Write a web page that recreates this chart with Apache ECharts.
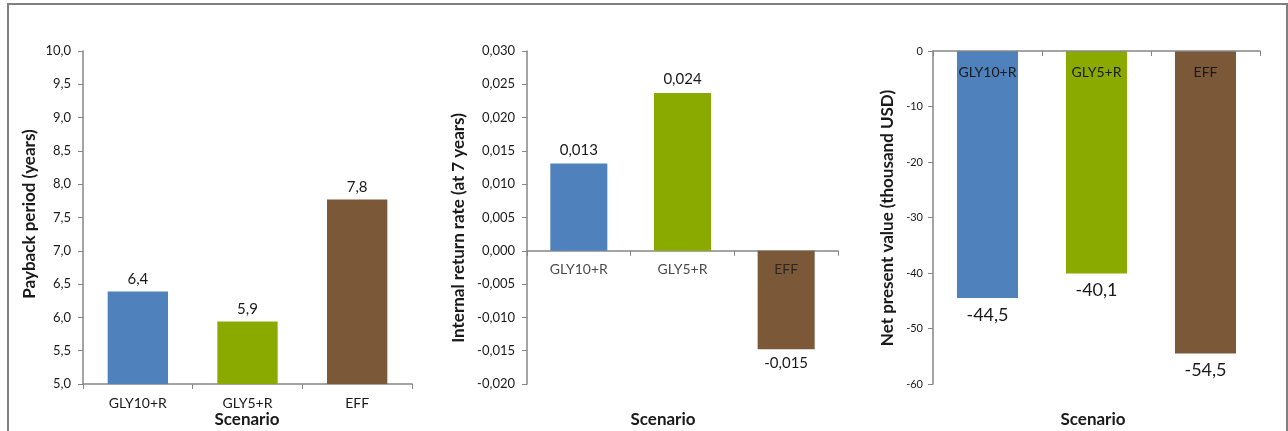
<!DOCTYPE html>
<html>
<head>
<meta charset="utf-8">
<script src="https://cdn.jsdelivr.net/npm/echarts@6/dist/echarts.min.js"></script>
<style>
html,body{margin:0;padding:0;background:#fff;}
#c{width:1288px;height:431px;}
</style>
</head>
<body>
<div id="c"></div>
<script>
var categories = ['GLY10+R', 'GLY5+R', 'EFF'];
var colors = ['#4F81BD', '#8BAA00', '#7A5838'];
var payback = [6.39, 5.94, 7.77];
var irr = [0.0131, 0.0237, -0.0148];
var npv = [-44.5, -40.1, -54.5];
var titles = ['Payback period (years)', 'Internal return rate (at 7 years)', 'Net present value (thousand USD)'];
var xTitle = 'Scenario';

var FONT = 'Lato, "Open Sans", sans-serif';
var TXT = '#1a1a1a';
var AX = '#868686';

function comma(v, d) { return v.toFixed(d).replace('.', ','); }

function mkData(arr) {
  return arr.map(function (v, i) {
    return {
      value: v,
      itemStyle: { color: colors[i] },
      label: { position: v < 0 ? 'bottom' : 'top' }
    };
  });
}

var chart = echarts.init(document.getElementById('c'), null, { renderer: 'canvas' });

function catAxis(extra) {
  return Object.assign({
    type: 'category',
    data: categories,
    axisLine: { onZero: true, lineStyle: { color: AX, width: 1.5 } },
    axisTick: { show: true, length: 5, lineStyle: { color: AX, width: 1 } },
    axisLabel: { color: TXT, fontFamily: FONT, fontSize: 14, margin: 12 },
    splitLine: { show: false }
  }, extra);
}
function valAxis(min, max, interval, dec, fs, margin) {
  return {
    type: 'value', min: min, max: max, interval: interval,
    axisLine: { show: true, lineStyle: { color: AX, width: 1.5 } },
    axisTick: { show: true, length: 5, lineStyle: { color: AX, width: 1 } },
    axisLabel: { color: TXT, fontFamily: FONT, fontSize: fs, margin: margin,
      formatter: function (v) { return comma(v, dec); } },
    splitLine: { show: false }
  };
}

var option = {
  animation: false,
  backgroundColor: '#fff',
  grid: [
    { left: 83, top: 51, width: 329, height: 333 },
    { left: 527, top: 51, width: 311, height: 333 },
    { left: 933, top: 51, width: 327, height: 333 }
  ],
  xAxis: [
    catAxis({ gridIndex: 0 }),
    catAxis({ gridIndex: 1, axisLabel: { show: false } }),
    catAxis({ gridIndex: 2, position: 'top', z: 10,
      axisTick: { show: true, inside: true, length: 5, lineStyle: { color: AX, width: 1 } },
      axisLabel: { inside: true, color: TXT, fontFamily: FONT, fontSize: 14, margin: 14 } })
  ],
  yAxis: [
    Object.assign(valAxis(5, 10, 0.5, 1, 13, 12), { gridIndex: 0 }),
    Object.assign(valAxis(-0.02, 0.03, 0.005, 3, 13, 12), { gridIndex: 1 }),
    Object.assign(valAxis(-60, 0, 10, 0, 11, 10), { gridIndex: 2 })
  ],
  series: [
    {
      type: 'bar', xAxisIndex: 0, yAxisIndex: 0, barCategoryGap: '45%',
      data: mkData(payback),
      label: { show: true, color: TXT, fontFamily: FONT, fontSize: 15, distance: 5,
        formatter: function (p) { return comma(p.value, 1); } }
    },
    {
      type: 'bar', xAxisIndex: 1, yAxisIndex: 1, barCategoryGap: '45%', z: 1,
      data: mkData(irr),
      label: { show: true, color: TXT, fontFamily: FONT, fontSize: 15, distance: 6,
        formatter: function (p) { return comma(p.value, 3); } }
    },
    {
      type: 'scatter', xAxisIndex: 1, yAxisIndex: 1, z: 5, symbolSize: 0, silent: true,
      data: categories.map(function (c) { return [c, 0]; }),
      label: { show: true, position: 'bottom', distance: 12, color: TXT, fontFamily: FONT, fontSize: 14,
        formatter: function (p) { return p.value[0]; } }
    },
    {
      type: 'bar', xAxisIndex: 2, yAxisIndex: 2, barCategoryGap: '44%', z: 1,
      data: mkData(npv),
      label: { show: true, color: TXT, fontFamily: FONT, fontSize: 18, distance: 8,
        formatter: function (p) { return comma(p.value, 1); } }
    }
  ],
  graphic: [
    { type: 'polyline', shape: { points: [[8, 431], [8, 4], [1287, 4], [1287, 431]] },
      style: { stroke: '#808080', lineWidth: 2, fill: null }, silent: true },
    { type: 'text', x: 30, y: 214, rotation: Math.PI / 2,
      style: { text: titles[0], font: 'bold 17px ' + FONT, fill: TXT, align: 'center', verticalAlign: 'middle' } },
    { type: 'text', x: 459, y: 228, rotation: Math.PI / 2,
      style: { text: titles[1], font: 'bold 17px ' + FONT, fill: TXT, align: 'center', verticalAlign: 'middle' } },
    { type: 'text', x: 888, y: 218, rotation: Math.PI / 2,
      style: { text: titles[2], font: 'bold 17px ' + FONT, fill: TXT, align: 'center', verticalAlign: 'middle' } },
    { type: 'text', x: 247, y: 420,
      style: { text: xTitle, font: 'bold 17px ' + FONT, fill: TXT, align: 'center', verticalAlign: 'middle' } },
    { type: 'text', x: 663, y: 420,
      style: { text: xTitle, font: 'bold 17px ' + FONT, fill: TXT, align: 'center', verticalAlign: 'middle' } },
    { type: 'text', x: 1093, y: 420,
      style: { text: xTitle, font: 'bold 17px ' + FONT, fill: TXT, align: 'center', verticalAlign: 'middle' } }
  ]
};
chart.setOption(option);
</script>
</body>
</html>
